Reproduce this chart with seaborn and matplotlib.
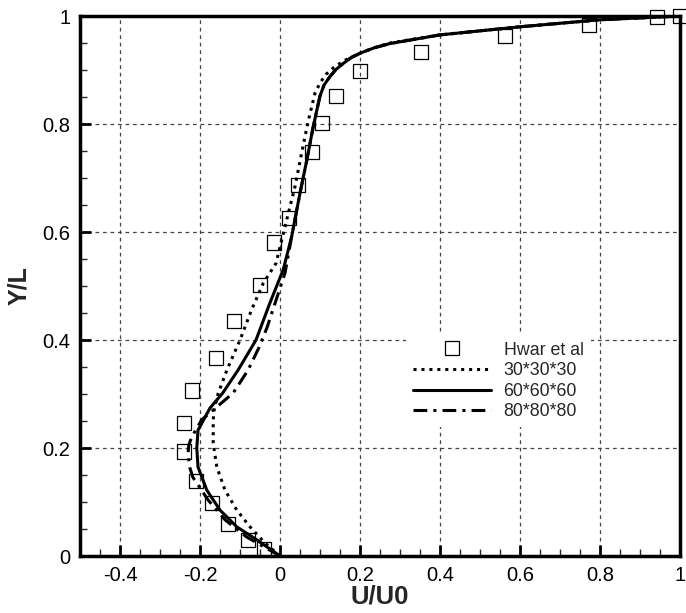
import numpy as np
import pandas as pd
import matplotlib
matplotlib.use("Agg")
import matplotlib.pyplot as plt
import seaborn as sns
from matplotlib.lines import Line2D

sns.set_style("white")
plt.rcParams['font.family'] = ['Liberation Sans', 'DejaVu Sans']

# Experimental data (Hwar et al)
exp_x = [1.0, 0.9425, 0.7725, 0.5625, 0.3525, 0.2, 0.14, 0.105, 0.08, 0.045, 0.0225,
         -0.015, -0.05, -0.115, -0.16, -0.22, -0.24, -0.24, -0.21, -0.17,
         -0.13, -0.08, -0.04]
exp_y = [1.0, 0.998, 0.983, 0.963, 0.933, 0.898, 0.852, 0.802, 0.748, 0.687, 0.626,
         0.581, 0.502, 0.435, 0.367, 0.306, 0.246, 0.193, 0.139, 0.098, 0.059, 0.03, 0.013]

# 30*30*30
g30_y = [0, 0.024, 0.054, 0.085, 0.122, 0.165, 0.209, 0.252, 0.274, 0.30, 0.344, 0.40,
         0.456, 0.505, 0.542, 0.61, 0.684, 0.746, 0.807, 0.857, 0.876, 0.892, 0.905,
         0.918, 0.931, 0.941, 0.95, 0.965, 0.98, 0.993, 1.0]
g30_x = [0, -0.0375, -0.075, -0.108, -0.1375, -0.158, -0.167, -0.167, -0.164, -0.155,
         -0.133, -0.1, -0.071, -0.042, -0.01, 0.0125, 0.0375, 0.054, 0.071, 0.0875,
         0.1, 0.115, 0.135, 0.162, 0.2, 0.235, 0.275, 0.4, 0.6, 0.8, 1.0]

# 60*60*60
g60_y = [0, 0.03, 0.054, 0.085, 0.122, 0.165, 0.2, 0.233, 0.274, 0.302, 0.344, 0.40,
         0.469, 0.53, 0.591, 0.672, 0.733, 0.795, 0.852, 0.872, 0.888, 0.901, 0.912,
         0.923, 0.931, 0.941, 0.949, 0.965, 0.98, 0.993, 1.0]
g60_x = [0, -0.058, -0.108, -0.15, -0.183, -0.205, -0.208, -0.205, -0.175, -0.143,
         -0.105, -0.06, -0.025, 0.008, 0.029, 0.05, 0.067, 0.083, 0.1, 0.11, 0.125,
         0.14, 0.158, 0.178, 0.2, 0.235, 0.275, 0.4, 0.6, 0.8, 1.0]

# 80*80*80
g80_y = [0, 0.035, 0.067, 0.104, 0.146, 0.165, 0.19, 0.205, 0.22, 0.252, 0.276, 0.302,
         0.344, 0.387, 0.424, 0.469, 0.524, 0.591, 0.672, 0.733, 0.795, 0.852, 0.872,
         0.888, 0.901, 0.912, 0.923, 0.931, 0.941, 0.949, 0.965, 0.98, 0.993, 1.0]
g80_x = [0, -0.083, -0.1375, -0.18, -0.218, -0.226, -0.23, -0.228, -0.221, -0.196,
         -0.158, -0.117, -0.08, -0.052, -0.032, -0.012, 0.0125, 0.029, 0.05, 0.067,
         0.083, 0.1, 0.11, 0.125, 0.14, 0.158, 0.178, 0.2, 0.235, 0.275, 0.4, 0.6,
         0.8, 1.0]

labels = ["Hwar et al", "30*30*30", "60*60*60", "80*80*80"]
xtick_vals = [-0.4, -0.2, 0, 0.2, 0.4, 0.6, 0.8, 1.0]
xtick_labels = ["-0.4", "-0.2", "0", "0.2", "0.4", "0.6", "0.8", "1"]
ytick_vals = [0, 0.2, 0.4, 0.6, 0.8, 1.0]
ytick_labels = ["0", "0.2", "0.4", "0.6", "0.8", "1"]

fig = plt.figure(figsize=(6.86, 6.13), dpi=100)
ax = fig.add_axes([80 / 686, 57 / 613, 600 / 686, 540 / 613])

LW = 2.2
styles = {
    "30*30*30": (0, (1, 1.6)),
    "60*60*60": "-",
    "80*80*80": (0, (4.5, 2, 1, 2)),
}
for lab, xs, ys in [("30*30*30", g30_x, g30_y), ("60*60*60", g60_x, g60_y),
                    ("80*80*80", g80_x, g80_y)]:
    df = pd.DataFrame({"x": xs, "y": ys})
    sns.lineplot(data=df, x="x", y="y", sort=False, estimator=None, ax=ax,
                 color="black", linestyle=styles[lab], linewidth=LW, zorder=3)
for ln in ax.get_lines():
    ln.set_solid_joinstyle("round")
    ln.set_dash_joinstyle("round")

dfe = pd.DataFrame({"x": exp_x, "y": exp_y})
sns.scatterplot(data=dfe, x="x", y="y", marker="s", s=110, facecolors="none",
                edgecolors="black", linewidths=0.9, ax=ax, zorder=4, clip_on=False)

ax.set_xlim(-0.5, 1.0)
ax.set_ylim(0, 1.0)
ax.set_xticks(xtick_vals)
ax.set_xticklabels(xtick_labels)
ax.set_yticks(ytick_vals)
ax.set_yticklabels(ytick_labels)
ax.set_xticks(np.arange(-0.45, 1.0, 0.05), minor=True)
ax.set_yticks(np.arange(0.05, 1.0, 0.05), minor=True)

ax.grid(True, which="major", color="#444444", linestyle=(0, (3, 3)), linewidth=0.9)
ax.tick_params(which="major", direction="in", length=8, width=2, labelsize=14.5,
               pad=7, bottom=True, left=True, top=False, right=False, colors="black")
ax.tick_params(which="minor", direction="in", length=5, width=1,
               bottom=True, left=True, top=False, right=False)
for sp in ax.spines.values():
    sp.set_linewidth(2.5)
    sp.set_color("black")

ax.set_xlabel("U/U0", fontsize=18.5, fontweight="bold", labelpad=0)
ax.set_ylabel("Y/L", fontsize=18, fontweight="bold", labelpad=8)

handles = [
    Line2D([], [], marker="s", markersize=10.5, markerfacecolor="none",
           markeredgecolor="black", markeredgewidth=0.9, linestyle="none"),
    Line2D([], [], color="black", linestyle=styles["30*30*30"], linewidth=LW),
    Line2D([], [], color="black", linestyle="-", linewidth=LW),
    Line2D([], [], color="black", linestyle=styles["80*80*80"], linewidth=LW),
]
leg = ax.legend(handles, labels, loc="upper left", bbox_to_anchor=(0.543, 0.41),
                frameon=True, fontsize=12.8, handlelength=4.4, handletextpad=0.7,
                labelspacing=0.2, borderaxespad=0, borderpad=0.4, fancybox=False,
                framealpha=1.0)
leg.get_frame().set_facecolor("white")
leg.get_frame().set_edgecolor("white")
leg.get_frame().set_linewidth(0)
leg.set_zorder(5)

fig.savefig("out.png", dpi=100)
